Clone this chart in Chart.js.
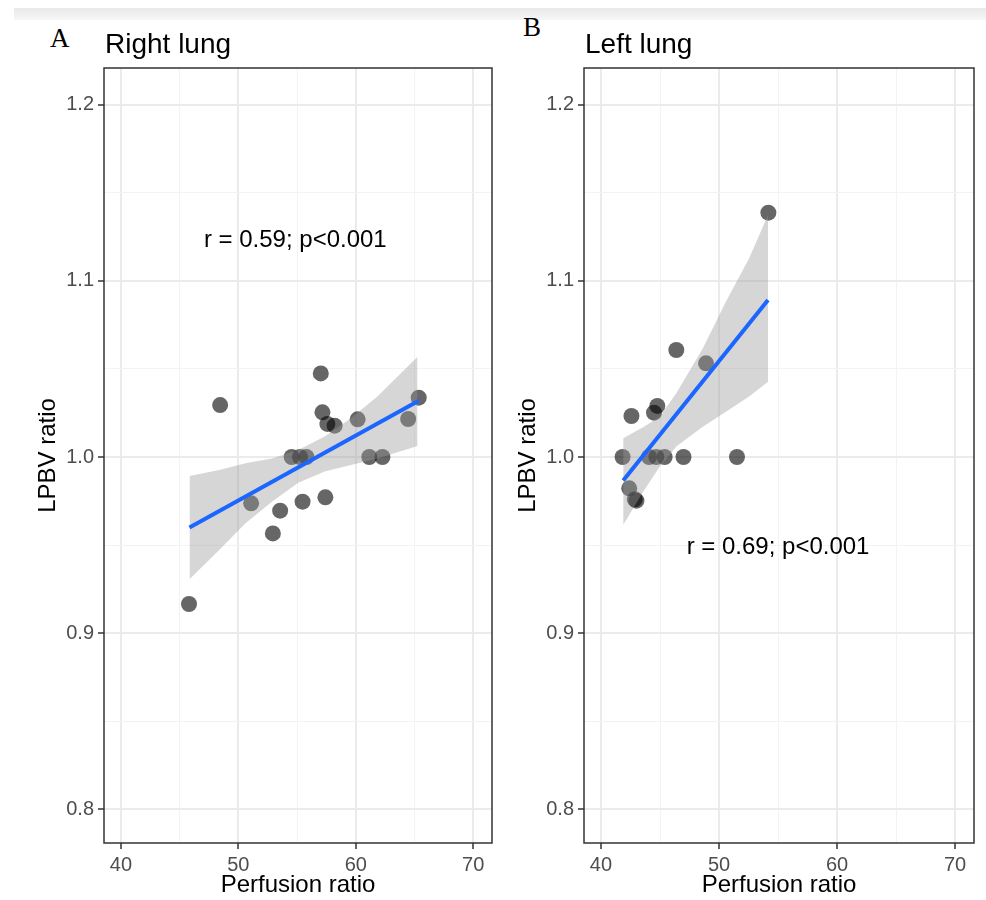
<!DOCTYPE html>
<html>
<head>
<meta charset="utf-8">
<title>LPBV ratio vs Perfusion ratio</title>
<script src="https://cdn.jsdelivr.net/npm/chart.js@4.4.1/dist/chart.umd.min.js"></script>
<style>
body{margin:0;background:#fff;width:986px;height:900px;position:relative;overflow:hidden}
.panel{position:absolute;top:0}
#p1{left:0}
#p2{left:480px}
.letra{position:absolute;font-family:"Liberation Serif","Times New Roman",serif;font-size:27px;color:#000;line-height:1}
#barra{position:absolute;left:14px;top:8px;width:972px;height:12px;background:linear-gradient(#e9e9e9,#f7f7f7)}
</style>
</head>
<body>
<div id="barra"></div>
<div class="letra" style="left:50px;top:25px">A</div>
<div class="letra" style="left:523px;top:14px">B</div>
<canvas id="p1" class="panel" width="500" height="900"></canvas>
<canvas id="p2" class="panel" width="506" height="900"></canvas>
<script>
// ejes
var ticksX = [40, 50, 60, 70];
var ticksXmenor = [45, 55, 65];
var ticksY = [0.8, 0.9, 1.0, 1.1, 1.2];
var ticksYmenor = [0.85, 0.95, 1.05, 1.15];

// pulmon derecho
var derechoX = [45.8, 48.45, 51.09, 52.94, 53.56, 54.54, 55.25, 55.80, 55.47, 57.02, 57.16, 57.41, 57.58, 58.20, 60.16, 61.15, 62.27, 64.46, 65.36];
var derechoY = [0.9165, 1.0295, 0.9737, 0.9566, 0.9695, 1.0, 1.0, 1.0, 0.9746, 1.0475, 1.0254, 0.9771, 1.0188, 1.0178, 1.0214, 1.0, 1.0, 1.0216, 1.0337];
var derechoLineaX = [45.84, 65.36];
var derechoLineaY = [0.960, 1.032];
var derechoBandaX = [45.84, 48.37, 50.61, 52.86, 55.10, 57.35, 59.59, 61.84, 65.26];
var derechoBandaSup = [0.9892, 0.9926, 0.9964, 0.9992, 1.0040, 1.0116, 1.0220, 1.0343, 1.0570];
var derechoBandaInf = [0.9305, 0.9472, 0.9623, 0.9746, 0.9854, 0.9917, 0.9954, 0.9992, 1.0062];

// pulmon izquierdo
var izquierdoX = [41.83, 42.39, 42.58, 42.86, 43.00, 44.07, 44.49, 44.69, 44.77, 45.39, 46.38, 46.99, 48.90, 51.52, 54.18];
var izquierdoY = [1.0, 0.9822, 1.0233, 0.9760, 0.9752, 1.0, 1.0252, 1.0, 1.0290, 1.0, 1.0608, 1.0, 1.0532, 1.0, 1.1388];
var izquierdoLineaX = [41.88, 54.15];
var izquierdoLineaY = [0.9866, 1.0892];
var izquierdoBandaX = [41.88, 43.57, 44.97, 46.38, 48.62, 50.59, 52.55, 54.15];
var izquierdoBandaSup = [1.0106, 1.0169, 1.0229, 1.0362, 1.0617, 1.0883, 1.1129, 1.1375];
var izquierdoBandaInf = [0.9614, 0.9803, 0.9945, 1.0059, 1.0172, 1.0257, 1.0343, 1.0428];

var fuente = '"Liberation Sans", Arial, sans-serif';

function pares(xs, ys){
  var r = [];
  for (var i = 0; i < xs.length; i++) r.push({x: xs[i], y: ys[i]});
  return r;
}

function esMayor(lista, v){
  return lista.indexOf(v) >= 0;
}

// marco del panel, titulo y texto de correlacion
var marcoPlugin = {
  id: 'marco',
  afterDraw: function(chart, args, opts){
    var a = chart.chartArea, ctx = chart.ctx;
    ctx.save();
    ctx.strokeStyle = '#333';
    ctx.lineWidth = 1.5;
    ctx.strokeRect(a.left, a.top, a.right - a.left, a.bottom - a.top);
    ctx.fillStyle = '#000';
    ctx.textBaseline = 'middle';
    ctx.textAlign = 'left';
    ctx.font = '28px ' + fuente;
    ctx.fillText(opts.titulo, a.left + 1, 45);
    ctx.textAlign = 'center';
    ctx.font = '24px ' + fuente;
    ctx.fillText(opts.texto, chart.scales.x.getPixelForValue(opts.textoX), chart.scales.y.getPixelForValue(opts.textoY));
    ctx.restore();
  }
};

function crearPanel(id, titulo, px, py, lx, ly, bx, bs, bi, texto, tx, ty, padDer){
  new Chart(document.getElementById(id), {
    type: 'scatter',
    data: {
      datasets: [
        {
          data: pares(lx, ly), showLine: true, borderColor: '#1a66ff', borderWidth: 4,
          pointRadius: 0, fill: false, order: 1
        },
        {
          data: pares(bx, bs), showLine: true, borderWidth: 0, pointRadius: 0,
          fill: '+1', backgroundColor: 'rgba(153,153,153,0.4)', order: 2
        },
        {
          data: pares(bx, bi), showLine: true, borderWidth: 0, pointRadius: 0,
          fill: false, order: 2
        },
        {
          data: pares(px, py), pointRadius: 8, backgroundColor: 'rgba(0,0,0,0.6)',
          borderWidth: 0, order: 3
        }
      ]
    },
    options: {
      responsive: false,
      animation: false,
      events: [],
      layout: { padding: { top: 68, left: 0, right: padDer, bottom: 0 } },
      plugins: {
        legend: { display: false },
        tooltip: { enabled: false },
        marco: { titulo: titulo, texto: texto, textoX: tx, textoY: ty }
      },
      scales: {
        x: {
          type: 'linear', min: 38.56, max: 71.6,
          afterBuildTicks: function(s){
            s.ticks = ticksX.concat(ticksXmenor).sort(function(a, b){ return a - b; }).map(function(v){ return {value: v}; });
          },
          afterFit: function(s){ s.height = 57; },
          border: { display: false },
          grid: {
            color: function(c){ return esMayor(ticksX, c.tick.value) ? '#ebebeb' : '#f3f3f3'; },
            lineWidth: function(c){ return esMayor(ticksX, c.tick.value) ? 2 : 1; },
            tickColor: function(c){ return esMayor(ticksX, c.tick.value) ? '#333' : 'rgba(0,0,0,0)'; },
            tickLength: 6, tickWidth: 1.5
          },
          ticks: {
            autoSkip: false, maxRotation: 0, padding: 4, color: '#4d4d4d',
            font: { family: fuente, size: 20 },
            callback: function(v){ return esMayor(ticksX, v) ? String(v) : ''; }
          },
          title: {
            display: true, text: 'Perfusion ratio', color: '#000',
            font: { family: fuente, size: 24 }, padding: { top: 0, bottom: 0 }
          }
        },
        y: {
          type: 'linear', min: 0.7807, max: 1.221,
          afterBuildTicks: function(s){
            s.ticks = ticksY.concat(ticksYmenor).sort(function(a, b){ return a - b; }).map(function(v){ return {value: v}; });
          },
          afterFit: function(s){ s.width = 104; },
          border: { display: false },
          grid: {
            color: function(c){ return esMayor(ticksY, c.tick.value) ? '#ebebeb' : '#f3f3f3'; },
            lineWidth: function(c){ return esMayor(ticksY, c.tick.value) ? 2 : 1; },
            tickColor: function(c){ return esMayor(ticksY, c.tick.value) ? '#333' : 'rgba(0,0,0,0)'; },
            tickLength: 6, tickWidth: 1.5
          },
          ticks: {
            autoSkip: false, padding: 4, color: '#4d4d4d',
            font: { family: fuente, size: 20 },
            callback: function(v){ return esMayor(ticksY, v) ? v.toFixed(1) : ''; }
          },
          title: {
            display: true, text: 'LPBV ratio', color: '#000',
            font: { family: fuente, size: 24 }, padding: { top: 34, bottom: 0 }
          }
        }
      }
    },
    plugins: [marcoPlugin]
  });
}

crearPanel('p1', 'Right lung', derechoX, derechoY, derechoLineaX, derechoLineaY,
  derechoBandaX, derechoBandaSup, derechoBandaInf, 'r = 0.59; p<0.001', 54.85, 1.1233, 6);
crearPanel('p2', 'Left lung', izquierdoX, izquierdoY, izquierdoLineaX, izquierdoLineaY,
  izquierdoBandaX, izquierdoBandaSup, izquierdoBandaInf, 'r = 0.69; p<0.001', 55.0, 0.9489, 12);
</script>
</body>
</html>
